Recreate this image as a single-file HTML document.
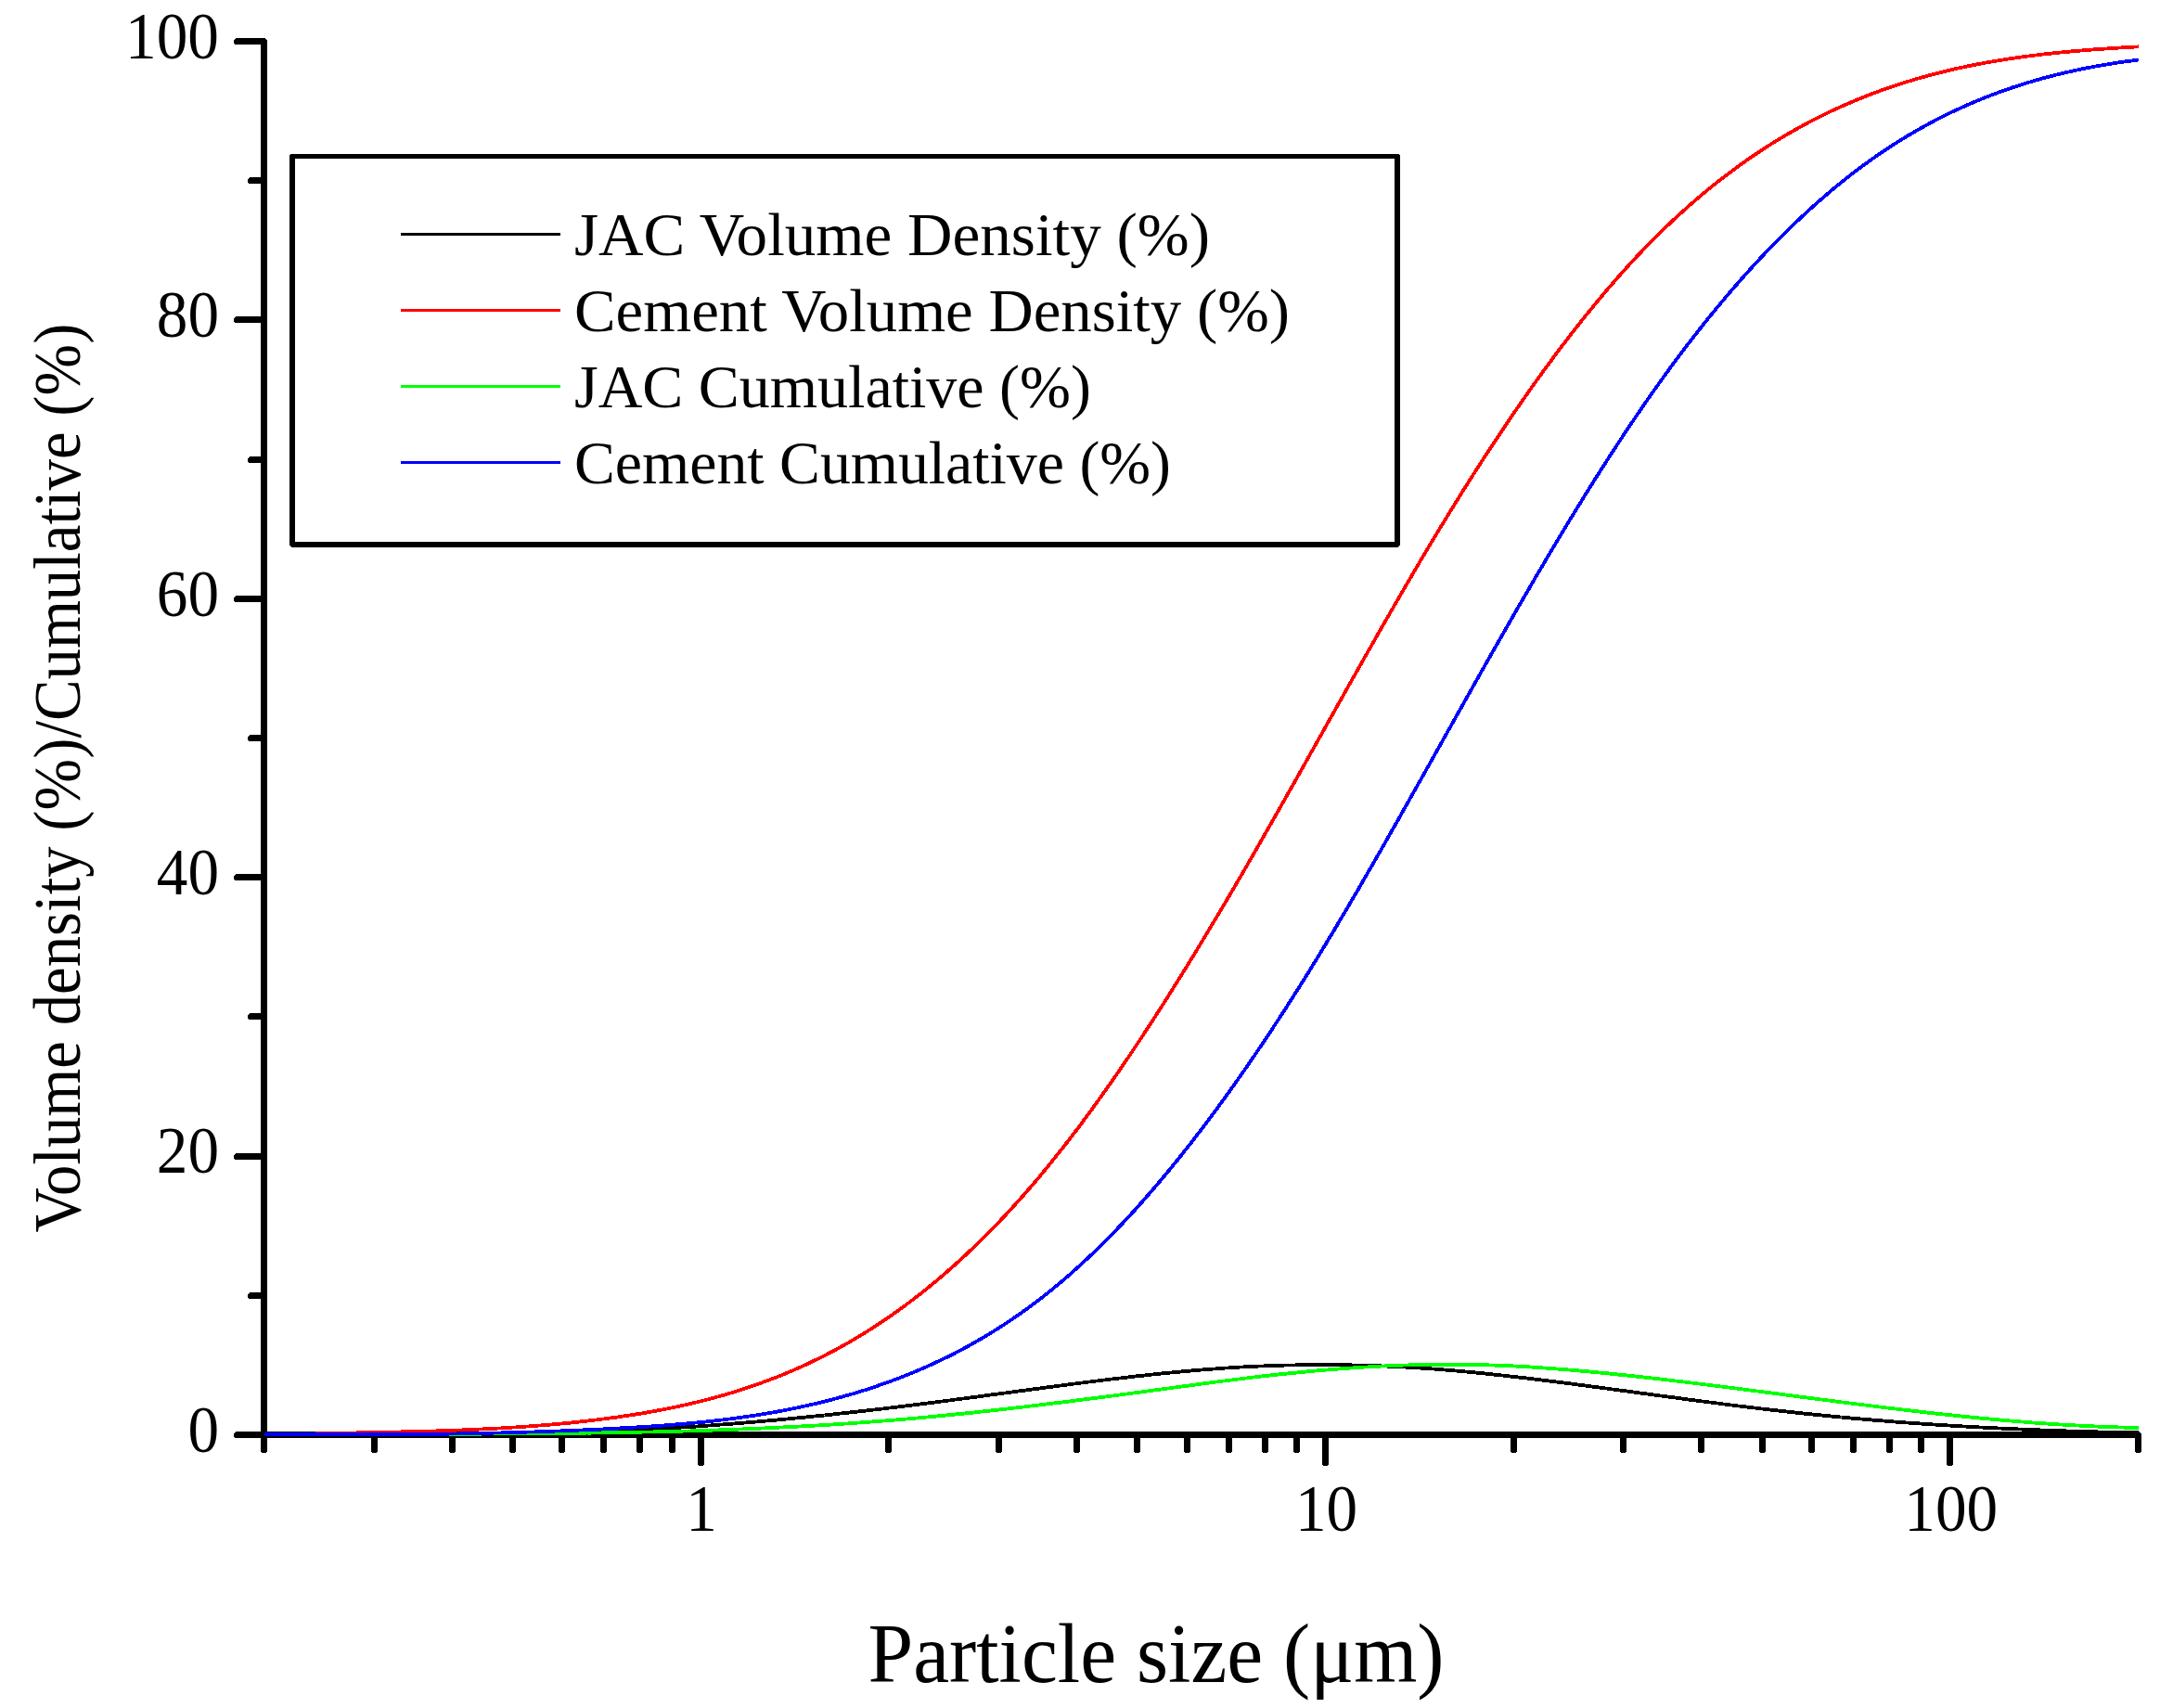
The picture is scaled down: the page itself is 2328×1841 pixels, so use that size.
<!DOCTYPE html>
<html><head><meta charset="utf-8"><title>Particle size distribution</title>
<style>html,body{margin:0;padding:0;background:#fff}body{width:2328px;height:1841px;overflow:hidden}svg{display:block}text{font-family:"Liberation Serif",serif;fill:#000}</style></head><body>
<svg width="2328" height="1841" viewBox="0 0 2328 1841">
<rect width="2328" height="1841" fill="#fff"/>
<g stroke="#000" stroke-width="7" stroke-linecap="round" fill="none" shape-rendering="crispEdges">
<path d="M284.5,44.5 V1562.5"/>
<path d="M255.5,1546.5 H2304.5"/>
<path d="M270.5,1396.5 H284.5"/>
<path d="M255.5,1246.5 H284.5"/>
<path d="M270.5,1095.5 H284.5"/>
<path d="M255.5,945.5 H284.5"/>
<path d="M270.5,795.5 H284.5"/>
<path d="M255.5,645.5 H284.5"/>
<path d="M270.5,495.5 H284.5"/>
<path d="M255.5,344.5 H284.5"/>
<path d="M270.5,194.5 H284.5"/>
<path d="M255.5,44.5 H284.5"/>
<path d="M403.5,1546.5 V1562.5"/>
<path d="M487.5,1546.5 V1562.5"/>
<path d="M552.5,1546.5 V1562.5"/>
<path d="M605.5,1546.5 V1562.5"/>
<path d="M650.5,1546.5 V1562.5"/>
<path d="M689.5,1546.5 V1562.5"/>
<path d="M724.5,1546.5 V1562.5"/>
<path d="M755.5,1546.5 V1576.5"/>
<path d="M957.5,1546.5 V1562.5"/>
<path d="M1076.5,1546.5 V1562.5"/>
<path d="M1160.5,1546.5 V1562.5"/>
<path d="M1225.5,1546.5 V1562.5"/>
<path d="M1279.5,1546.5 V1562.5"/>
<path d="M1324.5,1546.5 V1562.5"/>
<path d="M1363.5,1546.5 V1562.5"/>
<path d="M1397.5,1546.5 V1562.5"/>
<path d="M1428.5,1546.5 V1576.5"/>
<path d="M1631.5,1546.5 V1562.5"/>
<path d="M1749.5,1546.5 V1562.5"/>
<path d="M1833.5,1546.5 V1562.5"/>
<path d="M1899.5,1546.5 V1562.5"/>
<path d="M1952.5,1546.5 V1562.5"/>
<path d="M1997.5,1546.5 V1562.5"/>
<path d="M2036.5,1546.5 V1562.5"/>
<path d="M2070.5,1546.5 V1562.5"/>
<path d="M2101.5,1546.5 V1576.5"/>
<path d="M2304.5,1546.5 V1562.5"/>
</g>
<g fill="none" stroke-width="3.8" stroke-linejoin="round" shape-rendering="crispEdges">
<path stroke="#000" d="M284.5,1546.0 L288.5,1546.0 L292.5,1546.0 L296.5,1546.0 L300.5,1546.0 L304.5,1546.0 L308.5,1546.0 L312.5,1546.0 L316.5,1546.0 L320.5,1546.0 L324.5,1546.0 L328.5,1546.0 L332.5,1546.0 L336.5,1546.0 L340.5,1546.0 L344.5,1546.0 L348.5,1546.0 L352.5,1546.0 L356.5,1546.0 L360.5,1546.0 L364.5,1546.0 L368.5,1546.0 L372.5,1546.0 L376.5,1546.0 L380.5,1546.0 L384.5,1546.0 L388.5,1546.0 L392.5,1546.0 L396.5,1546.0 L400.5,1546.0 L404.5,1546.0 L408.5,1546.0 L412.5,1546.0 L416.5,1546.0 L420.5,1546.0 L424.5,1546.0 L428.5,1546.0 L432.5,1546.0 L436.5,1546.0 L440.5,1546.0 L444.5,1546.0 L448.5,1546.0 L452.5,1546.0 L456.5,1546.0 L460.5,1546.0 L464.5,1546.0 L468.5,1546.0 L472.5,1546.0 L476.5,1546.0 L480.5,1546.0 L484.5,1546.0 L488.5,1546.0 L492.5,1546.0 L496.5,1546.0 L500.5,1546.0 L504.5,1546.0 L508.5,1546.0 L512.5,1546.0 L516.5,1546.0 L520.5,1545.9 L524.5,1545.9 L528.5,1545.8 L532.5,1545.8 L536.5,1545.7 L540.5,1545.7 L544.5,1545.6 L548.5,1545.6 L552.5,1545.5 L556.5,1545.4 L560.5,1545.4 L564.5,1545.3 L568.5,1545.2 L572.5,1545.1 L576.5,1545.0 L580.5,1545.0 L584.5,1544.9 L588.5,1544.8 L592.5,1544.7 L596.5,1544.6 L600.5,1544.5 L604.5,1544.4 L608.5,1544.3 L612.5,1544.2 L616.5,1544.0 L620.5,1543.9 L624.5,1543.8 L628.5,1543.7 L632.5,1543.5 L636.5,1543.4 L640.5,1543.2 L644.5,1543.1 L648.5,1542.9 L652.5,1542.8 L656.5,1542.6 L660.5,1542.5 L664.5,1542.3 L668.5,1542.1 L672.5,1542.0 L676.5,1541.8 L680.5,1541.6 L684.5,1541.4 L688.5,1541.2 L692.5,1541.0 L696.5,1540.8 L700.5,1540.6 L704.5,1540.4 L708.5,1540.1 L712.5,1539.9 L716.5,1539.7 L720.5,1539.4 L724.5,1539.2 L728.5,1539.0 L732.5,1538.7 L736.5,1538.5 L740.5,1538.2 L744.5,1537.9 L748.5,1537.7 L752.5,1537.4 L756.5,1537.1 L760.5,1536.8 L764.5,1536.5 L768.5,1536.2 L772.5,1535.9 L776.5,1535.6 L780.5,1535.3 L784.5,1535.0 L788.5,1534.7 L792.5,1534.4 L796.5,1534.1 L800.5,1533.7 L804.5,1533.4 L808.5,1533.1 L812.5,1532.7 L816.5,1532.4 L820.5,1532.0 L824.5,1531.7 L828.5,1531.3 L832.5,1531.0 L836.5,1530.6 L840.5,1530.2 L844.5,1529.8 L848.5,1529.5 L852.5,1529.1 L856.5,1528.7 L860.5,1528.3 L864.5,1527.9 L868.5,1527.5 L872.5,1527.1 L876.5,1526.7 L880.5,1526.3 L884.5,1525.9 L888.5,1525.5 L892.5,1525.0 L896.5,1524.6 L900.5,1524.2 L904.5,1523.7 L908.5,1523.3 L912.5,1522.9 L916.5,1522.4 L920.5,1522.0 L924.5,1521.5 L928.5,1521.1 L932.5,1520.6 L936.5,1520.2 L940.5,1519.7 L944.5,1519.2 L948.5,1518.8 L952.5,1518.3 L956.5,1517.8 L960.5,1517.3 L964.5,1516.8 L968.5,1516.4 L972.5,1515.9 L976.5,1515.4 L980.5,1514.9 L984.5,1514.4 L988.5,1513.9 L992.5,1513.4 L996.5,1512.9 L1000.5,1512.4 L1004.5,1511.9 L1008.5,1511.3 L1012.5,1510.8 L1016.5,1510.3 L1020.5,1509.8 L1024.5,1509.3 L1028.5,1508.7 L1032.5,1508.2 L1036.5,1507.7 L1040.5,1507.2 L1044.5,1506.6 L1048.5,1506.1 L1052.5,1505.6 L1056.5,1505.0 L1060.5,1504.5 L1064.5,1504.0 L1068.5,1503.4 L1072.5,1502.9 L1076.5,1502.4 L1080.5,1501.8 L1084.5,1501.3 L1088.5,1500.8 L1092.5,1500.2 L1096.5,1499.7 L1100.5,1499.1 L1104.5,1498.6 L1108.5,1498.1 L1112.5,1497.5 L1116.5,1497.0 L1120.5,1496.5 L1124.5,1495.9 L1128.5,1495.4 L1132.5,1494.9 L1136.5,1494.3 L1140.5,1493.8 L1144.5,1493.3 L1148.5,1492.8 L1152.5,1492.2 L1156.5,1491.7 L1160.5,1491.2 L1164.5,1490.7 L1168.5,1490.2 L1172.5,1489.7 L1176.5,1489.2 L1180.5,1488.7 L1184.5,1488.2 L1188.5,1487.7 L1192.5,1487.2 L1196.5,1486.7 L1200.5,1486.2 L1204.5,1485.8 L1208.5,1485.3 L1212.5,1484.8 L1216.5,1484.4 L1220.5,1483.9 L1224.5,1483.4 L1228.5,1483.0 L1232.5,1482.6 L1236.5,1482.1 L1240.5,1481.7 L1244.5,1481.3 L1248.5,1480.9 L1252.5,1480.4 L1256.5,1480.0 L1260.5,1479.6 L1264.5,1479.3 L1268.5,1478.9 L1272.5,1478.5 L1276.5,1478.1 L1280.5,1477.8 L1284.5,1477.4 L1288.5,1477.1 L1292.5,1476.7 L1296.5,1476.4 L1300.5,1476.1 L1304.5,1475.8 L1308.5,1475.5 L1312.5,1475.2 L1316.5,1474.9 L1320.5,1474.6 L1324.5,1474.4 L1328.5,1474.1 L1332.5,1473.9 L1336.5,1473.6 L1340.5,1473.4 L1344.5,1473.2 L1348.5,1473.0 L1352.5,1472.8 L1356.5,1472.6 L1360.5,1472.5 L1364.5,1472.3 L1368.5,1472.1 L1372.5,1472.0 L1376.5,1471.9 L1380.5,1471.8 L1384.5,1471.6 L1388.5,1471.5 L1392.5,1471.5 L1396.5,1471.4 L1400.5,1471.3 L1404.5,1471.3 L1408.5,1471.2 L1412.5,1471.2 L1416.5,1471.1 L1420.5,1471.1 L1424.5,1471.1 L1428.5,1471.1 L1432.5,1471.1 L1436.5,1471.1 L1440.5,1471.2 L1444.5,1471.2 L1448.5,1471.3 L1452.5,1471.3 L1456.5,1471.4 L1460.5,1471.5 L1464.5,1471.6 L1468.5,1471.7 L1472.5,1471.8 L1476.5,1471.9 L1480.5,1472.1 L1484.5,1472.2 L1488.5,1472.4 L1492.5,1472.5 L1496.5,1472.7 L1500.5,1472.9 L1504.5,1473.1 L1508.5,1473.3 L1512.5,1473.5 L1516.5,1473.7 L1520.5,1473.9 L1524.5,1474.2 L1528.5,1474.4 L1532.5,1474.7 L1536.5,1475.0 L1540.5,1475.2 L1544.5,1475.5 L1548.5,1475.8 L1552.5,1476.1 L1556.5,1476.5 L1560.5,1476.8 L1564.5,1477.1 L1568.5,1477.5 L1572.5,1477.8 L1576.5,1478.2 L1580.5,1478.5 L1584.5,1478.9 L1588.5,1479.3 L1592.5,1479.7 L1596.5,1480.1 L1600.5,1480.5 L1604.5,1480.9 L1608.5,1481.4 L1612.5,1481.8 L1616.5,1482.2 L1620.5,1482.7 L1624.5,1483.1 L1628.5,1483.6 L1632.5,1484.0 L1636.5,1484.5 L1640.5,1484.9 L1644.5,1485.4 L1648.5,1485.9 L1652.5,1486.4 L1656.5,1486.9 L1660.5,1487.4 L1664.5,1487.9 L1668.5,1488.4 L1672.5,1488.9 L1676.5,1489.4 L1680.5,1489.9 L1684.5,1490.4 L1688.5,1490.9 L1692.5,1491.4 L1696.5,1491.9 L1700.5,1492.5 L1704.5,1493.0 L1708.5,1493.5 L1712.5,1494.1 L1716.5,1494.6 L1720.5,1495.1 L1724.5,1495.7 L1728.5,1496.2 L1732.5,1496.7 L1736.5,1497.3 L1740.5,1497.8 L1744.5,1498.4 L1748.5,1498.9 L1752.5,1499.4 L1756.5,1500.0 L1760.5,1500.5 L1764.5,1501.1 L1768.5,1501.6 L1772.5,1502.1 L1776.5,1502.7 L1780.5,1503.2 L1784.5,1503.8 L1788.5,1504.3 L1792.5,1504.8 L1796.5,1505.4 L1800.5,1505.9 L1804.5,1506.4 L1808.5,1507.0 L1812.5,1507.5 L1816.5,1508.0 L1820.5,1508.6 L1824.5,1509.1 L1828.5,1509.6 L1832.5,1510.2 L1836.5,1510.7 L1840.5,1511.2 L1844.5,1511.7 L1848.5,1512.2 L1852.5,1512.7 L1856.5,1513.3 L1860.5,1513.8 L1864.5,1514.3 L1868.5,1514.8 L1872.5,1515.3 L1876.5,1515.8 L1880.5,1516.3 L1884.5,1516.7 L1888.5,1517.2 L1892.5,1517.7 L1896.5,1518.2 L1900.5,1518.7 L1904.5,1519.1 L1908.5,1519.6 L1912.5,1520.1 L1916.5,1520.5 L1920.5,1521.0 L1924.5,1521.4 L1928.5,1521.9 L1932.5,1522.3 L1936.5,1522.7 L1940.5,1523.2 L1944.5,1523.6 L1948.5,1524.0 L1952.5,1524.4 L1956.5,1524.8 L1960.5,1525.2 L1964.5,1525.6 L1968.5,1526.0 L1972.5,1526.4 L1976.5,1526.8 L1980.5,1527.2 L1984.5,1527.6 L1988.5,1527.9 L1992.5,1528.3 L1996.5,1528.7 L2000.5,1529.0 L2004.5,1529.4 L2008.5,1529.7 L2012.5,1530.1 L2016.5,1530.4 L2020.5,1530.8 L2024.5,1531.1 L2028.5,1531.4 L2032.5,1531.7 L2036.5,1532.0 L2040.5,1532.4 L2044.5,1532.7 L2048.5,1533.0 L2052.5,1533.3 L2056.5,1533.6 L2060.5,1533.9 L2064.5,1534.1 L2068.5,1534.4 L2072.5,1534.7 L2076.5,1535.0 L2080.5,1535.2 L2084.5,1535.5 L2088.5,1535.8 L2092.5,1536.0 L2096.5,1536.3 L2100.5,1536.5 L2104.5,1536.8 L2108.5,1537.0 L2112.5,1537.3 L2116.5,1537.5 L2120.5,1537.7 L2124.5,1537.9 L2128.5,1538.2 L2132.5,1538.4 L2136.5,1538.6 L2140.5,1538.8 L2144.5,1539.0 L2148.5,1539.2 L2152.5,1539.4 L2156.5,1539.6 L2160.5,1539.8 L2164.5,1540.0 L2168.5,1540.2 L2172.5,1540.3 L2176.5,1540.5 L2180.5,1540.7 L2184.5,1540.9 L2188.5,1541.0 L2192.5,1541.2 L2196.5,1541.3 L2200.5,1541.5 L2204.5,1541.6 L2208.5,1541.8 L2212.5,1541.9 L2216.5,1542.1 L2220.5,1542.2 L2224.5,1542.3 L2228.5,1542.5 L2232.5,1542.6 L2236.5,1542.7 L2240.5,1542.8 L2244.5,1543.0 L2248.5,1543.1 L2252.5,1543.2 L2256.5,1543.3 L2260.5,1543.4 L2264.5,1543.5 L2268.5,1543.6 L2272.5,1543.7 L2276.5,1543.8 L2280.5,1543.9 L2284.5,1543.9 L2288.5,1544.0 L2292.5,1544.1 L2296.5,1544.2 L2300.5,1544.3 L2304.5,1544.3 L2305.0,1544.3"/>
<path stroke="#f00" d="M284.5,1546.0 L288.5,1546.0 L292.5,1546.0 L296.5,1546.0 L300.5,1546.0 L304.5,1546.0 L308.5,1546.0 L312.5,1546.0 L316.5,1546.0 L320.5,1546.0 L324.5,1546.0 L328.5,1546.0 L332.5,1546.0 L336.5,1546.0 L340.5,1545.3 L344.5,1545.2 L348.5,1545.1 L352.5,1545.0 L356.5,1544.9 L360.5,1544.9 L364.5,1544.8 L368.5,1544.7 L372.5,1544.6 L376.5,1544.6 L380.5,1544.5 L384.5,1544.4 L388.5,1544.3 L392.5,1544.3 L396.5,1544.2 L400.5,1544.1 L404.5,1544.0 L408.5,1544.0 L412.5,1543.9 L416.5,1543.8 L420.5,1543.7 L424.5,1543.6 L428.5,1543.5 L432.5,1543.4 L436.5,1543.3 L440.5,1543.3 L444.5,1543.1 L448.5,1543.0 L452.5,1542.9 L456.5,1542.8 L460.5,1542.7 L464.5,1542.6 L468.5,1542.5 L472.5,1542.3 L476.5,1542.2 L480.5,1542.1 L484.5,1541.9 L488.5,1541.8 L492.5,1541.6 L496.5,1541.5 L500.5,1541.3 L504.5,1541.2 L508.5,1541.0 L512.5,1540.8 L516.5,1540.6 L520.5,1540.4 L524.5,1540.2 L528.5,1540.0 L532.5,1539.8 L536.5,1539.6 L540.5,1539.4 L544.5,1539.1 L548.5,1538.9 L552.5,1538.6 L556.5,1538.4 L560.5,1538.1 L564.5,1537.8 L568.5,1537.5 L572.5,1537.2 L576.5,1536.9 L580.5,1536.6 L584.5,1536.3 L588.5,1536.0 L592.5,1535.6 L596.5,1535.3 L600.5,1534.9 L604.5,1534.5 L608.5,1534.2 L612.5,1533.8 L616.5,1533.4 L620.5,1532.9 L624.5,1532.5 L628.5,1532.1 L632.5,1531.6 L636.5,1531.2 L640.5,1530.7 L644.5,1530.2 L648.5,1529.7 L652.5,1529.2 L656.5,1528.7 L660.5,1528.1 L664.5,1527.6 L668.5,1527.0 L672.5,1526.4 L676.5,1525.8 L680.5,1525.2 L684.5,1524.6 L688.5,1523.9 L692.5,1523.3 L696.5,1522.6 L700.5,1521.9 L704.5,1521.2 L708.5,1520.4 L712.5,1519.7 L716.5,1518.9 L720.5,1518.1 L724.5,1517.3 L728.5,1516.5 L732.5,1515.6 L736.5,1514.7 L740.5,1513.8 L744.5,1512.9 L748.5,1512.0 L752.5,1511.0 L756.5,1510.0 L760.5,1509.0 L764.5,1508.0 L768.5,1506.9 L772.5,1505.8 L776.5,1504.7 L780.5,1503.6 L784.5,1502.4 L788.5,1501.2 L792.5,1500.0 L796.5,1498.7 L800.5,1497.4 L804.5,1496.1 L808.5,1494.8 L812.5,1493.4 L816.5,1492.0 L820.5,1490.6 L824.5,1489.1 L828.5,1487.6 L832.5,1486.1 L836.5,1484.6 L840.5,1483.0 L844.5,1481.3 L848.5,1479.7 L852.5,1478.0 L856.5,1476.3 L860.5,1474.5 L864.5,1472.7 L868.5,1470.9 L872.5,1469.0 L876.5,1467.1 L880.5,1465.2 L884.5,1463.2 L888.5,1461.2 L892.5,1459.1 L896.5,1457.0 L900.5,1454.9 L904.5,1452.7 L908.5,1450.5 L912.5,1448.3 L916.5,1446.0 L920.5,1443.6 L924.5,1441.3 L928.5,1438.8 L932.5,1436.4 L936.5,1433.9 L940.5,1431.3 L944.5,1428.7 L948.5,1426.1 L952.5,1423.4 L956.5,1420.7 L960.5,1417.9 L964.5,1415.1 L968.5,1412.3 L972.5,1409.4 L976.5,1406.4 L980.5,1403.4 L984.5,1400.4 L988.5,1397.3 L992.5,1394.2 L996.5,1391.0 L1000.5,1387.8 L1004.5,1384.5 L1008.5,1381.2 L1012.5,1377.8 L1016.5,1374.4 L1020.5,1370.9 L1024.5,1367.4 L1028.5,1363.9 L1032.5,1360.2 L1036.5,1356.6 L1040.5,1352.9 L1044.5,1349.1 L1048.5,1345.3 L1052.5,1341.5 L1056.5,1337.6 L1060.5,1333.6 L1064.5,1329.6 L1068.5,1325.5 L1072.5,1321.4 L1076.5,1317.3 L1080.5,1313.1 L1084.5,1308.8 L1088.5,1304.5 L1092.5,1300.1 L1096.5,1295.7 L1100.5,1291.2 L1104.5,1286.7 L1108.5,1282.1 L1112.5,1277.5 L1116.5,1272.8 L1120.5,1268.1 L1124.5,1263.3 L1128.5,1258.4 L1132.5,1253.5 L1136.5,1248.5 L1140.5,1243.5 L1144.5,1238.5 L1148.5,1233.3 L1152.5,1228.2 L1156.5,1223.0 L1160.5,1217.7 L1164.5,1212.4 L1168.5,1207.0 L1172.5,1201.6 L1176.5,1196.1 L1180.5,1190.6 L1184.5,1185.0 L1188.5,1179.4 L1192.5,1173.8 L1196.5,1168.1 L1200.5,1162.4 L1204.5,1156.6 L1208.5,1150.8 L1212.5,1144.9 L1216.5,1139.0 L1220.5,1133.0 L1224.5,1127.1 L1228.5,1121.0 L1232.5,1115.0 L1236.5,1108.9 L1240.5,1102.7 L1244.5,1096.5 L1248.5,1090.3 L1252.5,1084.1 L1256.5,1077.8 L1260.5,1071.5 L1264.5,1065.1 L1268.5,1058.7 L1272.5,1052.3 L1276.5,1045.8 L1280.5,1039.4 L1284.5,1032.8 L1288.5,1026.3 L1292.5,1019.7 L1296.5,1013.1 L1300.5,1006.5 L1304.5,999.8 L1308.5,993.2 L1312.5,986.4 L1316.5,979.7 L1320.5,972.9 L1324.5,966.2 L1328.5,959.3 L1332.5,952.5 L1336.5,945.7 L1340.5,938.8 L1344.5,931.9 L1348.5,925.0 L1352.5,918.0 L1356.5,911.1 L1360.5,904.1 L1364.5,897.1 L1368.5,890.1 L1372.5,883.1 L1376.5,876.0 L1380.5,869.0 L1384.5,861.9 L1388.5,854.8 L1392.5,847.8 L1396.5,840.7 L1400.5,833.6 L1404.5,826.5 L1408.5,819.3 L1412.5,812.2 L1416.5,805.1 L1420.5,798.0 L1424.5,790.9 L1428.5,783.7 L1432.5,776.6 L1436.5,769.5 L1440.5,762.4 L1444.5,755.3 L1448.5,748.1 L1452.5,741.0 L1456.5,733.9 L1460.5,726.9 L1464.5,719.8 L1468.5,712.7 L1472.5,705.6 L1476.5,698.6 L1480.5,691.6 L1484.5,684.6 L1488.5,677.5 L1492.5,670.6 L1496.5,663.6 L1500.5,656.6 L1504.5,649.7 L1508.5,642.8 L1512.5,635.9 L1516.5,629.1 L1520.5,622.2 L1524.5,615.4 L1528.5,608.6 L1532.5,601.8 L1536.5,595.1 L1540.5,588.4 L1544.5,581.7 L1548.5,575.1 L1552.5,568.5 L1556.5,561.9 L1560.5,555.4 L1564.5,548.8 L1568.5,542.4 L1572.5,535.9 L1576.5,529.5 L1580.5,523.2 L1584.5,516.8 L1588.5,510.5 L1592.5,504.3 L1596.5,498.1 L1600.5,491.9 L1604.5,485.8 L1608.5,479.7 L1612.5,473.6 L1616.5,467.6 L1620.5,461.6 L1624.5,455.6 L1628.5,449.7 L1632.5,443.9 L1636.5,438.1 L1640.5,432.3 L1644.5,426.6 L1648.5,420.9 L1652.5,415.2 L1656.5,409.6 L1660.5,404.1 L1664.5,398.6 L1668.5,393.1 L1672.5,387.7 L1676.5,382.3 L1680.5,376.9 L1684.5,371.7 L1688.5,366.4 L1692.5,361.2 L1696.5,356.1 L1700.5,351.0 L1704.5,345.9 L1708.5,340.9 L1712.5,336.0 L1716.5,331.1 L1720.5,326.2 L1724.5,321.4 L1728.5,316.6 L1732.5,311.9 L1736.5,307.3 L1740.5,302.7 L1744.5,298.1 L1748.5,293.6 L1752.5,289.2 L1756.5,284.8 L1760.5,280.4 L1764.5,276.1 L1768.5,271.9 L1772.5,267.7 L1776.5,263.6 L1780.5,259.5 L1784.5,255.5 L1788.5,251.5 L1792.5,247.6 L1796.5,243.8 L1800.5,240.0 L1804.5,236.2 L1808.5,232.5 L1812.5,228.9 L1816.5,225.3 L1820.5,221.7 L1824.5,218.2 L1828.5,214.8 L1832.5,211.4 L1836.5,208.0 L1840.5,204.7 L1844.5,201.4 L1848.5,198.2 L1852.5,195.1 L1856.5,191.9 L1860.5,188.9 L1864.5,185.9 L1868.5,182.9 L1872.5,179.9 L1876.5,177.1 L1880.5,174.2 L1884.5,171.4 L1888.5,168.7 L1892.5,166.0 L1896.5,163.3 L1900.5,160.7 L1904.5,158.1 L1908.5,155.5 L1912.5,153.1 L1916.5,150.6 L1920.5,148.2 L1924.5,145.8 L1928.5,143.5 L1932.5,141.2 L1936.5,138.9 L1940.5,136.7 L1944.5,134.5 L1948.5,132.4 L1952.5,130.3 L1956.5,128.2 L1960.5,126.2 L1964.5,124.2 L1968.5,122.3 L1972.5,120.3 L1976.5,118.5 L1980.5,116.6 L1984.5,114.8 L1988.5,113.0 L1992.5,111.3 L1996.5,109.6 L2000.5,107.9 L2004.5,106.3 L2008.5,104.7 L2012.5,103.1 L2016.5,101.5 L2020.5,100.0 L2024.5,98.6 L2028.5,97.1 L2032.5,95.7 L2036.5,94.3 L2040.5,92.9 L2044.5,91.6 L2048.5,90.3 L2052.5,89.0 L2056.5,87.8 L2060.5,86.6 L2064.5,85.4 L2068.5,84.2 L2072.5,83.1 L2076.5,82.0 L2080.5,80.9 L2084.5,79.8 L2088.5,78.8 L2092.5,77.8 L2096.5,76.8 L2100.5,75.9 L2104.5,74.9 L2108.5,74.0 L2112.5,73.1 L2116.5,72.3 L2120.5,71.4 L2124.5,70.6 L2128.5,69.8 L2132.5,69.0 L2136.5,68.3 L2140.5,67.5 L2144.5,66.8 L2148.5,66.1 L2152.5,65.5 L2156.5,64.8 L2160.5,64.2 L2164.5,63.5 L2168.5,62.9 L2172.5,62.4 L2176.5,61.8 L2180.5,61.2 L2184.5,60.7 L2188.5,60.2 L2192.5,59.7 L2196.5,59.2 L2200.5,58.7 L2204.5,58.2 L2208.5,57.8 L2212.5,57.4 L2216.5,57.0 L2220.5,56.5 L2224.5,56.2 L2228.5,55.8 L2232.5,55.4 L2236.5,55.0 L2240.5,54.7 L2244.5,54.4 L2248.5,54.0 L2252.5,53.7 L2256.5,53.4 L2260.5,53.1 L2264.5,52.8 L2268.5,52.6 L2272.5,52.3 L2276.5,52.0 L2280.5,51.8 L2284.5,51.5 L2288.5,51.3 L2292.5,51.0 L2296.5,50.8 L2300.5,50.6 L2304.5,50.4 L2305.0,50.3"/>
<path stroke="#0f0" d="M284.5,1546.0 L288.5,1546.0 L292.5,1546.0 L296.5,1546.0 L300.5,1546.0 L304.5,1546.0 L308.5,1546.0 L312.5,1546.0 L316.5,1546.0 L320.5,1546.0 L324.5,1546.0 L328.5,1546.0 L332.5,1546.0 L336.5,1546.0 L340.5,1546.0 L344.5,1546.0 L348.5,1546.0 L352.5,1546.0 L356.5,1546.0 L360.5,1546.0 L364.5,1546.0 L368.5,1546.0 L372.5,1546.0 L376.5,1546.0 L380.5,1546.0 L384.5,1546.0 L388.5,1546.0 L392.5,1546.0 L396.5,1546.0 L400.5,1546.0 L404.5,1546.0 L408.5,1546.0 L412.5,1546.0 L416.5,1546.0 L420.5,1546.0 L424.5,1546.0 L428.5,1546.0 L432.5,1546.0 L436.5,1546.0 L440.5,1546.0 L444.5,1546.0 L448.5,1546.0 L452.5,1546.0 L456.5,1546.0 L460.5,1546.0 L464.5,1546.0 L468.5,1546.0 L472.5,1546.0 L476.5,1546.0 L480.5,1546.0 L484.5,1546.0 L488.5,1546.0 L492.5,1546.0 L496.5,1546.0 L500.5,1546.0 L504.5,1546.0 L508.5,1546.0 L512.5,1546.0 L516.5,1546.0 L520.5,1545.4 L524.5,1545.4 L528.5,1545.4 L532.5,1545.4 L536.5,1545.4 L540.5,1545.4 L544.5,1545.3 L548.5,1545.3 L552.5,1545.3 L556.5,1545.3 L560.5,1545.3 L564.5,1545.2 L568.5,1545.2 L572.5,1545.2 L576.5,1545.2 L580.5,1545.1 L584.5,1545.1 L588.5,1545.1 L592.5,1545.0 L596.5,1545.0 L600.5,1545.0 L604.5,1544.9 L608.5,1544.9 L612.5,1544.8 L616.5,1544.8 L620.5,1544.8 L624.5,1544.7 L628.5,1544.7 L632.5,1544.6 L636.5,1544.6 L640.5,1544.5 L644.5,1544.5 L648.5,1544.4 L652.5,1544.3 L656.5,1544.3 L660.5,1544.2 L664.5,1544.1 L668.5,1544.1 L672.5,1544.0 L676.5,1543.9 L680.5,1543.9 L684.5,1543.8 L688.5,1543.7 L692.5,1543.6 L696.5,1543.5 L700.5,1543.5 L704.5,1543.4 L708.5,1543.3 L712.5,1543.2 L716.5,1543.1 L720.5,1543.0 L724.5,1542.9 L728.5,1542.8 L732.5,1542.7 L736.5,1542.6 L740.5,1542.5 L744.5,1542.4 L748.5,1542.2 L752.5,1542.1 L756.5,1542.0 L760.5,1541.9 L764.5,1541.7 L768.5,1541.6 L772.5,1541.5 L776.5,1541.3 L780.5,1541.2 L784.5,1541.0 L788.5,1540.9 L792.5,1540.7 L796.5,1540.6 L800.5,1540.4 L804.5,1540.3 L808.5,1540.1 L812.5,1539.9 L816.5,1539.8 L820.5,1539.6 L824.5,1539.4 L828.5,1539.2 L832.5,1539.0 L836.5,1538.8 L840.5,1538.6 L844.5,1538.4 L848.5,1538.2 L852.5,1538.0 L856.5,1537.8 L860.5,1537.6 L864.5,1537.4 L868.5,1537.2 L872.5,1537.0 L876.5,1536.7 L880.5,1536.5 L884.5,1536.2 L888.5,1536.0 L892.5,1535.8 L896.5,1535.5 L900.5,1535.3 L904.5,1535.0 L908.5,1534.7 L912.5,1534.5 L916.5,1534.2 L920.5,1533.9 L924.5,1533.6 L928.5,1533.3 L932.5,1533.0 L936.5,1532.7 L940.5,1532.4 L944.5,1532.1 L948.5,1531.8 L952.5,1531.5 L956.5,1531.2 L960.5,1530.9 L964.5,1530.5 L968.5,1530.2 L972.5,1529.9 L976.5,1529.5 L980.5,1529.2 L984.5,1528.8 L988.5,1528.5 L992.5,1528.1 L996.5,1527.7 L1000.5,1527.4 L1004.5,1527.0 L1008.5,1526.6 L1012.5,1526.2 L1016.5,1525.8 L1020.5,1525.4 L1024.5,1525.0 L1028.5,1524.6 L1032.5,1524.2 L1036.5,1523.8 L1040.5,1523.4 L1044.5,1523.0 L1048.5,1522.6 L1052.5,1522.1 L1056.5,1521.7 L1060.5,1521.3 L1064.5,1520.8 L1068.5,1520.4 L1072.5,1520.0 L1076.5,1519.5 L1080.5,1519.1 L1084.5,1518.6 L1088.5,1518.2 L1092.5,1517.7 L1096.5,1517.2 L1100.5,1516.8 L1104.5,1516.3 L1108.5,1515.8 L1112.5,1515.3 L1116.5,1514.9 L1120.5,1514.4 L1124.5,1513.9 L1128.5,1513.4 L1132.5,1512.9 L1136.5,1512.4 L1140.5,1512.0 L1144.5,1511.5 L1148.5,1511.0 L1152.5,1510.5 L1156.5,1510.0 L1160.5,1509.4 L1164.5,1508.9 L1168.5,1508.4 L1172.5,1507.9 L1176.5,1507.4 L1180.5,1506.9 L1184.5,1506.4 L1188.5,1505.9 L1192.5,1505.3 L1196.5,1504.8 L1200.5,1504.3 L1204.5,1503.8 L1208.5,1503.2 L1212.5,1502.7 L1216.5,1502.2 L1220.5,1501.6 L1224.5,1501.1 L1228.5,1500.6 L1232.5,1500.0 L1236.5,1499.5 L1240.5,1499.0 L1244.5,1498.4 L1248.5,1497.9 L1252.5,1497.3 L1256.5,1496.8 L1260.5,1496.3 L1264.5,1495.7 L1268.5,1495.2 L1272.5,1494.6 L1276.5,1494.1 L1280.5,1493.6 L1284.5,1493.0 L1288.5,1492.5 L1292.5,1491.9 L1296.5,1491.4 L1300.5,1490.9 L1304.5,1490.4 L1308.5,1489.8 L1312.5,1489.3 L1316.5,1488.8 L1320.5,1488.3 L1324.5,1487.8 L1328.5,1487.3 L1332.5,1486.8 L1336.5,1486.3 L1340.5,1485.8 L1344.5,1485.3 L1348.5,1484.8 L1352.5,1484.3 L1356.5,1483.9 L1360.5,1483.4 L1364.5,1483.0 L1368.5,1482.5 L1372.5,1482.1 L1376.5,1481.6 L1380.5,1481.2 L1384.5,1480.8 L1388.5,1480.4 L1392.5,1480.0 L1396.5,1479.6 L1400.5,1479.2 L1404.5,1478.8 L1408.5,1478.4 L1412.5,1478.0 L1416.5,1477.7 L1420.5,1477.3 L1424.5,1477.0 L1428.5,1476.6 L1432.5,1476.3 L1436.5,1476.0 L1440.5,1475.7 L1444.5,1475.4 L1448.5,1475.1 L1452.5,1474.8 L1456.5,1474.5 L1460.5,1474.2 L1464.5,1474.0 L1468.5,1473.7 L1472.5,1473.5 L1476.5,1473.2 L1480.5,1473.0 L1484.5,1472.8 L1488.5,1472.6 L1492.5,1472.4 L1496.5,1472.2 L1500.5,1472.0 L1504.5,1471.9 L1508.5,1471.7 L1512.5,1471.6 L1516.5,1471.5 L1520.5,1471.3 L1524.5,1471.2 L1528.5,1471.1 L1532.5,1471.0 L1536.5,1471.0 L1540.5,1470.9 L1544.5,1470.8 L1548.5,1470.8 L1552.5,1470.7 L1556.5,1470.7 L1560.5,1470.7 L1564.5,1470.7 L1568.5,1470.7 L1572.5,1470.8 L1576.5,1470.8 L1580.5,1470.8 L1584.5,1470.9 L1588.5,1471.0 L1592.5,1471.1 L1596.5,1471.2 L1600.5,1471.3 L1604.5,1471.4 L1608.5,1471.5 L1612.5,1471.7 L1616.5,1471.8 L1620.5,1472.0 L1624.5,1472.2 L1628.5,1472.3 L1632.5,1472.5 L1636.5,1472.8 L1640.5,1473.0 L1644.5,1473.2 L1648.5,1473.4 L1652.5,1473.7 L1656.5,1473.9 L1660.5,1474.2 L1664.5,1474.5 L1668.5,1474.8 L1672.5,1475.1 L1676.5,1475.4 L1680.5,1475.7 L1684.5,1476.0 L1688.5,1476.3 L1692.5,1476.6 L1696.5,1477.0 L1700.5,1477.3 L1704.5,1477.7 L1708.5,1478.0 L1712.5,1478.4 L1716.5,1478.8 L1720.5,1479.2 L1724.5,1479.5 L1728.5,1479.9 L1732.5,1480.3 L1736.5,1480.7 L1740.5,1481.1 L1744.5,1481.6 L1748.5,1482.0 L1752.5,1482.4 L1756.5,1482.8 L1760.5,1483.3 L1764.5,1483.7 L1768.5,1484.1 L1772.5,1484.6 L1776.5,1485.0 L1780.5,1485.5 L1784.5,1485.9 L1788.5,1486.4 L1792.5,1486.9 L1796.5,1487.3 L1800.5,1487.8 L1804.5,1488.3 L1808.5,1488.8 L1812.5,1489.2 L1816.5,1489.7 L1820.5,1490.2 L1824.5,1490.7 L1828.5,1491.2 L1832.5,1491.7 L1836.5,1492.2 L1840.5,1492.7 L1844.5,1493.2 L1848.5,1493.7 L1852.5,1494.2 L1856.5,1494.7 L1860.5,1495.2 L1864.5,1495.7 L1868.5,1496.2 L1872.5,1496.7 L1876.5,1497.2 L1880.5,1497.8 L1884.5,1498.3 L1888.5,1498.8 L1892.5,1499.3 L1896.5,1499.8 L1900.5,1500.3 L1904.5,1500.9 L1908.5,1501.4 L1912.5,1501.9 L1916.5,1502.4 L1920.5,1503.0 L1924.5,1503.5 L1928.5,1504.0 L1932.5,1504.5 L1936.5,1505.0 L1940.5,1505.6 L1944.5,1506.1 L1948.5,1506.6 L1952.5,1507.1 L1956.5,1507.7 L1960.5,1508.2 L1964.5,1508.7 L1968.5,1509.2 L1972.5,1509.7 L1976.5,1510.2 L1980.5,1510.8 L1984.5,1511.3 L1988.5,1511.8 L1992.5,1512.3 L1996.5,1512.8 L2000.5,1513.3 L2004.5,1513.8 L2008.5,1514.3 L2012.5,1514.8 L2016.5,1515.3 L2020.5,1515.8 L2024.5,1516.3 L2028.5,1516.8 L2032.5,1517.3 L2036.5,1517.8 L2040.5,1518.2 L2044.5,1518.7 L2048.5,1519.2 L2052.5,1519.7 L2056.5,1520.2 L2060.5,1520.6 L2064.5,1521.1 L2068.5,1521.5 L2072.5,1522.0 L2076.5,1522.5 L2080.5,1522.9 L2084.5,1523.4 L2088.5,1523.8 L2092.5,1524.2 L2096.5,1524.7 L2100.5,1525.1 L2104.5,1525.5 L2108.5,1525.9 L2112.5,1526.4 L2116.5,1526.8 L2120.5,1527.2 L2124.5,1527.6 L2128.5,1528.0 L2132.5,1528.4 L2136.5,1528.8 L2140.5,1529.1 L2144.5,1529.5 L2148.5,1529.9 L2152.5,1530.2 L2156.5,1530.6 L2160.5,1531.0 L2164.5,1531.3 L2168.5,1531.6 L2172.5,1532.0 L2176.5,1532.3 L2180.5,1532.6 L2184.5,1532.9 L2188.5,1533.3 L2192.5,1533.6 L2196.5,1533.9 L2200.5,1534.1 L2204.5,1534.4 L2208.5,1534.7 L2212.5,1535.0 L2216.5,1535.2 L2220.5,1535.5 L2224.5,1535.7 L2228.5,1536.0 L2232.5,1536.2 L2236.5,1536.4 L2240.5,1536.6 L2244.5,1536.8 L2248.5,1537.0 L2252.5,1537.2 L2256.5,1537.4 L2260.5,1537.6 L2264.5,1537.8 L2268.5,1537.9 L2272.5,1538.1 L2276.5,1538.2 L2280.5,1538.3 L2284.5,1538.5 L2288.5,1538.6 L2292.5,1538.7 L2296.5,1538.8 L2300.5,1538.9 L2304.5,1538.9 L2305.0,1538.9"/>
<path stroke="#00f" d="M284.5,1546.0 L288.5,1546.0 L292.5,1546.0 L296.5,1546.0 L300.5,1546.0 L304.5,1546.0 L308.5,1546.0 L312.5,1546.0 L316.5,1546.0 L320.5,1546.0 L324.5,1546.0 L328.5,1546.0 L332.5,1546.0 L336.5,1546.0 L340.5,1546.0 L344.5,1546.0 L348.5,1546.0 L352.5,1546.0 L356.5,1546.0 L360.5,1546.0 L364.5,1546.0 L368.5,1546.0 L372.5,1546.0 L376.5,1546.0 L380.5,1546.0 L384.5,1546.0 L388.5,1546.0 L392.5,1546.0 L396.5,1546.0 L400.5,1546.0 L404.5,1546.0 L408.5,1546.0 L412.5,1546.0 L416.5,1546.0 L420.5,1546.0 L424.5,1546.0 L428.5,1546.0 L432.5,1546.0 L436.5,1546.0 L440.5,1546.0 L444.5,1546.0 L448.5,1546.0 L452.5,1546.0 L456.5,1546.0 L460.5,1546.0 L464.5,1546.0 L468.5,1546.0 L472.5,1546.0 L476.5,1546.0 L480.5,1545.7 L484.5,1545.6 L488.5,1545.5 L492.5,1545.5 L496.5,1545.4 L500.5,1545.3 L504.5,1545.3 L508.5,1545.2 L512.5,1545.1 L516.5,1545.0 L520.5,1544.9 L524.5,1544.8 L528.5,1544.7 L532.5,1544.6 L536.5,1544.5 L540.5,1544.4 L544.5,1544.3 L548.5,1544.2 L552.5,1544.1 L556.5,1544.0 L560.5,1543.9 L564.5,1543.8 L568.5,1543.6 L572.5,1543.5 L576.5,1543.4 L580.5,1543.2 L584.5,1543.1 L588.5,1543.0 L592.5,1542.8 L596.5,1542.7 L600.5,1542.5 L604.5,1542.4 L608.5,1542.2 L612.5,1542.1 L616.5,1541.9 L620.5,1541.7 L624.5,1541.6 L628.5,1541.4 L632.5,1541.2 L636.5,1541.0 L640.5,1540.8 L644.5,1540.7 L648.5,1540.5 L652.5,1540.3 L656.5,1540.1 L660.5,1539.9 L664.5,1539.7 L668.5,1539.4 L672.5,1539.2 L676.5,1539.0 L680.5,1538.8 L684.5,1538.5 L688.5,1538.3 L692.5,1538.0 L696.5,1537.8 L700.5,1537.5 L704.5,1537.3 L708.5,1537.0 L712.5,1536.7 L716.5,1536.4 L720.5,1536.1 L724.5,1535.8 L728.5,1535.4 L732.5,1535.1 L736.5,1534.8 L740.5,1534.4 L744.5,1534.0 L748.5,1533.7 L752.5,1533.3 L756.5,1532.9 L760.5,1532.5 L764.5,1532.0 L768.5,1531.6 L772.5,1531.1 L776.5,1530.7 L780.5,1530.2 L784.5,1529.7 L788.5,1529.2 L792.5,1528.6 L796.5,1528.1 L800.5,1527.5 L804.5,1527.0 L808.5,1526.4 L812.5,1525.8 L816.5,1525.2 L820.5,1524.5 L824.5,1523.9 L828.5,1523.2 L832.5,1522.5 L836.5,1521.8 L840.5,1521.0 L844.5,1520.3 L848.5,1519.5 L852.5,1518.7 L856.5,1517.9 L860.5,1517.1 L864.5,1516.2 L868.5,1515.3 L872.5,1514.4 L876.5,1513.5 L880.5,1512.6 L884.5,1511.6 L888.5,1510.6 L892.5,1509.6 L896.5,1508.6 L900.5,1507.5 L904.5,1506.4 L908.5,1505.3 L912.5,1504.2 L916.5,1503.1 L920.5,1501.9 L924.5,1500.7 L928.5,1499.4 L932.5,1498.2 L936.5,1496.9 L940.5,1495.6 L944.5,1494.2 L948.5,1492.8 L952.5,1491.4 L956.5,1490.0 L960.5,1488.6 L964.5,1487.1 L968.5,1485.6 L972.5,1484.0 L976.5,1482.4 L980.5,1480.8 L984.5,1479.2 L988.5,1477.5 L992.5,1475.8 L996.5,1474.1 L1000.5,1472.3 L1004.5,1470.5 L1008.5,1468.6 L1012.5,1466.7 L1016.5,1464.8 L1020.5,1462.9 L1024.5,1460.9 L1028.5,1458.9 L1032.5,1456.8 L1036.5,1454.7 L1040.5,1452.5 L1044.5,1450.4 L1048.5,1448.1 L1052.5,1445.9 L1056.5,1443.5 L1060.5,1441.2 L1064.5,1438.8 L1068.5,1436.4 L1072.5,1433.9 L1076.5,1431.4 L1080.5,1428.8 L1084.5,1426.2 L1088.5,1423.5 L1092.5,1420.8 L1096.5,1418.0 L1100.5,1415.2 L1104.5,1412.4 L1108.5,1409.5 L1112.5,1406.5 L1116.5,1403.5 L1120.5,1400.5 L1124.5,1397.4 L1128.5,1394.2 L1132.5,1391.0 L1136.5,1387.7 L1140.5,1384.4 L1144.5,1381.1 L1148.5,1377.6 L1152.5,1374.2 L1156.5,1370.6 L1160.5,1367.1 L1164.5,1363.4 L1168.5,1359.7 L1172.5,1356.0 L1176.5,1352.2 L1180.5,1348.4 L1184.5,1344.5 L1188.5,1340.5 L1192.5,1336.5 L1196.5,1332.4 L1200.5,1328.3 L1204.5,1324.2 L1208.5,1320.0 L1212.5,1315.7 L1216.5,1311.4 L1220.5,1307.1 L1224.5,1302.7 L1228.5,1298.2 L1232.5,1293.7 L1236.5,1289.1 L1240.5,1284.5 L1244.5,1279.9 L1248.5,1275.2 L1252.5,1270.4 L1256.5,1265.7 L1260.5,1260.8 L1264.5,1255.9 L1268.5,1251.0 L1272.5,1246.0 L1276.5,1241.0 L1280.5,1235.9 L1284.5,1230.8 L1288.5,1225.6 L1292.5,1220.4 L1296.5,1215.2 L1300.5,1209.9 L1304.5,1204.5 L1308.5,1199.1 L1312.5,1193.7 L1316.5,1188.2 L1320.5,1182.7 L1324.5,1177.1 L1328.5,1171.5 L1332.5,1165.9 L1336.5,1160.2 L1340.5,1154.5 L1344.5,1148.7 L1348.5,1142.9 L1352.5,1137.0 L1356.5,1131.1 L1360.5,1125.2 L1364.5,1119.2 L1368.5,1113.2 L1372.5,1107.1 L1376.5,1101.0 L1380.5,1094.9 L1384.5,1088.7 L1388.5,1082.5 L1392.5,1076.2 L1396.5,1069.9 L1400.5,1063.6 L1404.5,1057.2 L1408.5,1050.8 L1412.5,1044.3 L1416.5,1037.8 L1420.5,1031.3 L1424.5,1024.8 L1428.5,1018.2 L1432.5,1011.5 L1436.5,1004.9 L1440.5,998.2 L1444.5,991.5 L1448.5,984.7 L1452.5,977.9 L1456.5,971.1 L1460.5,964.3 L1464.5,957.5 L1468.5,950.6 L1472.5,943.7 L1476.5,936.7 L1480.5,929.8 L1484.5,922.8 L1488.5,915.9 L1492.5,908.9 L1496.5,901.8 L1500.5,894.8 L1504.5,887.8 L1508.5,880.7 L1512.5,873.6 L1516.5,866.5 L1520.5,859.4 L1524.5,852.3 L1528.5,845.2 L1532.5,838.1 L1536.5,831.0 L1540.5,823.9 L1544.5,816.7 L1548.5,809.6 L1552.5,802.5 L1556.5,795.3 L1560.5,788.2 L1564.5,781.1 L1568.5,773.9 L1572.5,766.8 L1576.5,759.7 L1580.5,752.6 L1584.5,745.5 L1588.5,738.4 L1592.5,731.3 L1596.5,724.2 L1600.5,717.1 L1604.5,710.1 L1608.5,703.0 L1612.5,696.0 L1616.5,689.0 L1620.5,682.0 L1624.5,675.0 L1628.5,668.0 L1632.5,661.1 L1636.5,654.1 L1640.5,647.2 L1644.5,640.3 L1648.5,633.5 L1652.5,626.6 L1656.5,619.8 L1660.5,613.0 L1664.5,606.2 L1668.5,599.5 L1672.5,592.7 L1676.5,586.0 L1680.5,579.4 L1684.5,572.7 L1688.5,566.1 L1692.5,559.5 L1696.5,553.0 L1700.5,546.5 L1704.5,540.0 L1708.5,533.5 L1712.5,527.1 L1716.5,520.7 L1720.5,514.3 L1724.5,508.0 L1728.5,501.8 L1732.5,495.5 L1736.5,489.3 L1740.5,483.2 L1744.5,477.0 L1748.5,471.0 L1752.5,464.9 L1756.5,458.9 L1760.5,453.0 L1764.5,447.1 L1768.5,441.2 L1772.5,435.4 L1776.5,429.6 L1780.5,423.9 L1784.5,418.2 L1788.5,412.6 L1792.5,407.0 L1796.5,401.5 L1800.5,396.0 L1804.5,390.6 L1808.5,385.2 L1812.5,379.9 L1816.5,374.6 L1820.5,369.4 L1824.5,364.2 L1828.5,359.1 L1832.5,354.0 L1836.5,348.9 L1840.5,343.9 L1844.5,339.0 L1848.5,334.1 L1852.5,329.3 L1856.5,324.5 L1860.5,319.7 L1864.5,315.0 L1868.5,310.4 L1872.5,305.8 L1876.5,301.2 L1880.5,296.7 L1884.5,292.3 L1888.5,287.9 L1892.5,283.5 L1896.5,279.2 L1900.5,274.9 L1904.5,270.7 L1908.5,266.6 L1912.5,262.4 L1916.5,258.4 L1920.5,254.4 L1924.5,250.4 L1928.5,246.5 L1932.5,242.6 L1936.5,238.8 L1940.5,235.0 L1944.5,231.3 L1948.5,227.6 L1952.5,223.9 L1956.5,220.4 L1960.5,216.8 L1964.5,213.3 L1968.5,209.9 L1972.5,206.5 L1976.5,203.1 L1980.5,199.8 L1984.5,196.6 L1988.5,193.4 L1992.5,190.2 L1996.5,187.1 L2000.5,184.1 L2004.5,181.1 L2008.5,178.1 L2012.5,175.2 L2016.5,172.3 L2020.5,169.5 L2024.5,166.7 L2028.5,164.0 L2032.5,161.3 L2036.5,158.7 L2040.5,156.1 L2044.5,153.5 L2048.5,151.0 L2052.5,148.6 L2056.5,146.1 L2060.5,143.8 L2064.5,141.4 L2068.5,139.2 L2072.5,136.9 L2076.5,134.7 L2080.5,132.5 L2084.5,130.4 L2088.5,128.3 L2092.5,126.3 L2096.5,124.3 L2100.5,122.3 L2104.5,120.4 L2108.5,118.5 L2112.5,116.7 L2116.5,114.9 L2120.5,113.1 L2124.5,111.3 L2128.5,109.6 L2132.5,108.0 L2136.5,106.3 L2140.5,104.7 L2144.5,103.2 L2148.5,101.7 L2152.5,100.2 L2156.5,98.7 L2160.5,97.3 L2164.5,95.9 L2168.5,94.5 L2172.5,93.2 L2176.5,91.9 L2180.5,90.6 L2184.5,89.4 L2188.5,88.2 L2192.5,87.0 L2196.5,85.9 L2200.5,84.7 L2204.5,83.6 L2208.5,82.6 L2212.5,81.6 L2216.5,80.5 L2220.5,79.6 L2224.5,78.6 L2228.5,77.7 L2232.5,76.8 L2236.5,75.9 L2240.5,75.1 L2244.5,74.2 L2248.5,73.4 L2252.5,72.7 L2256.5,71.9 L2260.5,71.2 L2264.5,70.5 L2268.5,69.8 L2272.5,69.1 L2276.5,68.5 L2280.5,67.8 L2284.5,67.2 L2288.5,66.7 L2292.5,66.1 L2296.5,65.6 L2300.5,65.0 L2304.5,64.5 L2305.0,64.5"/>
</g>
<g font-size="71" text-anchor="end">
<text x="236" y="1564.8" textLength="33.6" lengthAdjust="spacingAndGlyphs">0</text>
<text x="236" y="1264.4" textLength="67.2" lengthAdjust="spacingAndGlyphs">20</text>
<text x="236" y="964.0" textLength="67.2" lengthAdjust="spacingAndGlyphs">40</text>
<text x="236" y="663.6" textLength="67.2" lengthAdjust="spacingAndGlyphs">60</text>
<text x="236" y="363.2" textLength="67.2" lengthAdjust="spacingAndGlyphs">80</text>
<text x="236" y="62.8" textLength="100.9" lengthAdjust="spacingAndGlyphs">100</text>
</g>
<g font-size="71" text-anchor="middle">
<text x="756.1" y="1650" textLength="33.6" lengthAdjust="spacingAndGlyphs">1</text>
<text x="1429.5" y="1650" textLength="67.2" lengthAdjust="spacingAndGlyphs">10</text>
<text x="2102.8" y="1650" textLength="100.9" lengthAdjust="spacingAndGlyphs">100</text>
</g>
<text x="1246" y="1813" font-size="91" text-anchor="middle" textLength="621" lengthAdjust="spacingAndGlyphs">Particle size (μm)</text>
<text transform="translate(86,838.6) rotate(-90)" font-size="71" text-anchor="middle" textLength="980" lengthAdjust="spacingAndGlyphs">Volume density (%)/Cumulative (%)</text>
<rect x="315" y="168.6" width="1191" height="418.4" fill="none" stroke="#000" stroke-width="5.5" stroke-linejoin="round" shape-rendering="crispEdges"/>
<path d="M432,252.5 H604" stroke="#000" stroke-width="3" fill="none" shape-rendering="crispEdges"/>
<text x="619" y="274.8" font-size="66" textLength="685" lengthAdjust="spacingAndGlyphs">JAC Volume Density (%)</text>
<path d="M432,334.5 H604" stroke="#f00" stroke-width="3" fill="none" shape-rendering="crispEdges"/>
<text x="619" y="356.8" font-size="66" textLength="771" lengthAdjust="spacingAndGlyphs">Cement Volume Density (%)</text>
<path d="M432,416.5 H604" stroke="#0f0" stroke-width="3" fill="none" shape-rendering="crispEdges"/>
<text x="619" y="438.8" font-size="66" textLength="557" lengthAdjust="spacingAndGlyphs">JAC Cumulative (%)</text>
<path d="M432,498.5 H604" stroke="#00f" stroke-width="3" fill="none" shape-rendering="crispEdges"/>
<text x="619" y="520.8" font-size="66" textLength="643" lengthAdjust="spacingAndGlyphs">Cement Cumulative (%)</text>
</svg></body></html>
